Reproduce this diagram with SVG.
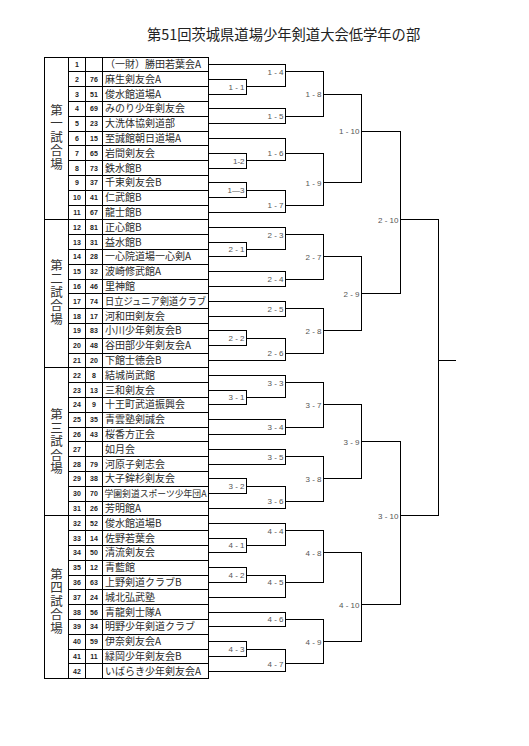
<svg xmlns="http://www.w3.org/2000/svg" width="529" height="746" viewBox="0 0 529 746">
<style>
.bg{fill:#ffffff}
.ln{fill:none;stroke:#000;stroke-width:1;shape-rendering:crispEdges}
.title{font-family:"Noto Sans CJK JP","Noto Sans",sans-serif;font-size:14.3px;fill:#222}
.grp{font-family:"Noto Sans CJK JP",sans-serif;font-size:12.5px;fill:#333;text-anchor:middle;writing-mode:vertical-rl;letter-spacing:1px}
.no{font-family:"Liberation Sans",Arial,sans-serif;font-size:7px;font-weight:bold;fill:#222;text-anchor:middle}
.nm{font-family:"Noto Sans CJK JP",sans-serif;font-size:10px;fill:#2a2a2a}
.sm{font-family:"Noto Sans CJK JP",sans-serif;font-size:8.7px;fill:#2a2a2a}
.lb{font-family:"Liberation Sans",Arial,sans-serif;font-size:8px;fill:#555;text-anchor:end}
</style>
<rect class="bg" x="0" y="0" width="529" height="746"/>
<text id="title" class="title" x="147" y="39.5">第51回茨城県道場少年剣道大会低学年の部</text>

<g id="table">
<rect class="ln" x="44.5" y="57" width="164" height="621.6"/>
<path class="ln" d="M68.5 57V678.6M85.5 57V678.6M102.5 57V678.6"/>
<path class="ln" d="M44.5 219.8H208.5M44.5 367.8H208.5M44.5 515.8H208.5"/>
<path class="ln" d="M68.5 71.8H208.5M68.5 86.6H208.5M68.5 101.4H208.5M68.5 116.2H208.5M68.5 131H208.5M68.5 145.8H208.5M68.5 160.6H208.5M68.5 175.4H208.5M68.5 190.2H208.5M68.5 205H208.5M68.5 234.6H208.5M68.5 249.4H208.5M68.5 264.2H208.5M68.5 279H208.5M68.5 293.8H208.5M68.5 308.6H208.5M68.5 323.4H208.5M68.5 338.2H208.5M68.5 353H208.5M68.5 382.6H208.5M68.5 397.4H208.5M68.5 412.2H208.5M68.5 427H208.5M68.5 441.8H208.5M68.5 456.6H208.5M68.5 471.4H208.5M68.5 486.2H208.5M68.5 501H208.5M68.5 530.6H208.5M68.5 545.4H208.5M68.5 560.2H208.5M68.5 575H208.5M68.5 589.8H208.5M68.5 604.6H208.5M68.5 619.4H208.5M68.5 634.2H208.5M68.5 649H208.5M68.5 663.8H208.5"/>
</g>

<g id="court-1"><text class="grp" x="56.5" y="137.5">第一試合場</text></g>
<g id="court-2"><text class="grp" x="56.5" y="292.5">第二試合場</text></g>
<g id="court-3"><text class="grp" x="56.5" y="442">第三試合場</text></g>
<g id="court-4"><text class="grp" x="56.5" y="601.5">第四試合場</text></g>

<g id="team-1" transform="translate(0,64.4)"><text class="no" x="77" y="2.5">1</text><text class="nm" x="105" y="3.6">（一財）勝田若葉会A</text></g>
<g id="team-2" transform="translate(0,79.2)"><text class="no" x="77" y="2.5">2</text><text class="no" x="94" y="2.5">76</text><text class="nm" x="105" y="3.6">麻生剣友会A</text></g>
<g id="team-3" transform="translate(0,94)"><text class="no" x="77" y="2.5">3</text><text class="no" x="94" y="2.5">51</text><text class="nm" x="105" y="3.6">俊水館道場A</text></g>
<g id="team-4" transform="translate(0,108.8)"><text class="no" x="77" y="2.5">4</text><text class="no" x="94" y="2.5">69</text><text class="nm" x="105" y="3.6">みのり少年剣友会</text></g>
<g id="team-5" transform="translate(0,123.6)"><text class="no" x="77" y="2.5">5</text><text class="no" x="94" y="2.5">23</text><text class="nm" x="105" y="3.6">大洗体協剣道部</text></g>
<g id="team-6" transform="translate(0,138.4)"><text class="no" x="77" y="2.5">6</text><text class="no" x="94" y="2.5">15</text><text class="nm" x="105" y="3.6">至誠館朝日道場A</text></g>
<g id="team-7" transform="translate(0,153.2)"><text class="no" x="77" y="2.5">7</text><text class="no" x="94" y="2.5">65</text><text class="nm" x="105" y="3.6">岩間剣友会</text></g>
<g id="team-8" transform="translate(0,168)"><text class="no" x="77" y="2.5">8</text><text class="no" x="94" y="2.5">73</text><text class="nm" x="105" y="3.6">鉄水館B</text></g>
<g id="team-9" transform="translate(0,182.8)"><text class="no" x="77" y="2.5">9</text><text class="no" x="94" y="2.5">37</text><text class="nm" x="105" y="3.6">千束剣友会B</text></g>
<g id="team-10" transform="translate(0,197.6)"><text class="no" x="77" y="2.5">10</text><text class="no" x="94" y="2.5">41</text><text class="nm" x="105" y="3.6">仁武館B</text></g>
<g id="team-11" transform="translate(0,212.4)"><text class="no" x="77" y="2.5">11</text><text class="no" x="94" y="2.5">67</text><text class="nm" x="105" y="3.6">龍士館B</text></g>
<g id="team-12" transform="translate(0,227.2)"><text class="no" x="77" y="2.5">12</text><text class="no" x="94" y="2.5">81</text><text class="nm" x="105" y="3.6">正心館B</text></g>
<g id="team-13" transform="translate(0,242)"><text class="no" x="77" y="2.5">13</text><text class="no" x="94" y="2.5">31</text><text class="nm" x="105" y="3.6">益水館B</text></g>
<g id="team-14" transform="translate(0,256.8)"><text class="no" x="77" y="2.5">14</text><text class="no" x="94" y="2.5">28</text><text class="nm" x="105" y="3.6">一心院道場一心剣A</text></g>
<g id="team-15" transform="translate(0,271.6)"><text class="no" x="77" y="2.5">15</text><text class="no" x="94" y="2.5">32</text><text class="nm" x="105" y="3.6">波崎修武館A</text></g>
<g id="team-16" transform="translate(0,286.4)"><text class="no" x="77" y="2.5">16</text><text class="no" x="94" y="2.5">46</text><text class="nm" x="105" y="3.6">里神館</text></g>
<g id="team-17" transform="translate(0,301.2)"><text class="no" x="77" y="2.5">17</text><text class="no" x="94" y="2.5">74</text><text class="nm" x="105" y="3.6" textLength="101" lengthAdjust="spacingAndGlyphs">日立ジュニア剣道クラブ</text></g>
<g id="team-18" transform="translate(0,316)"><text class="no" x="77" y="2.5">18</text><text class="no" x="94" y="2.5">17</text><text class="nm" x="105" y="3.6">河和田剣友会</text></g>
<g id="team-19" transform="translate(0,330.8)"><text class="no" x="77" y="2.5">19</text><text class="no" x="94" y="2.5">83</text><text class="nm" x="105" y="3.6">小川少年剣友会B</text></g>
<g id="team-20" transform="translate(0,345.6)"><text class="no" x="77" y="2.5">20</text><text class="no" x="94" y="2.5">48</text><text class="nm" x="105" y="3.6">谷田部少年剣友会A</text></g>
<g id="team-21" transform="translate(0,360.4)"><text class="no" x="77" y="2.5">21</text><text class="no" x="94" y="2.5">20</text><text class="nm" x="105" y="3.6">下館士徳会B</text></g>
<g id="team-22" transform="translate(0,375.2)"><text class="no" x="77" y="2.5">22</text><text class="no" x="94" y="2.5">8</text><text class="nm" x="105" y="3.6">結城尚武館</text></g>
<g id="team-23" transform="translate(0,390)"><text class="no" x="77" y="2.5">23</text><text class="no" x="94" y="2.5">13</text><text class="nm" x="105" y="3.6">三和剣友会</text></g>
<g id="team-24" transform="translate(0,404.8)"><text class="no" x="77" y="2.5">24</text><text class="no" x="94" y="2.5">9</text><text class="nm" x="105" y="3.6">十王町武道振興会</text></g>
<g id="team-25" transform="translate(0,419.6)"><text class="no" x="77" y="2.5">25</text><text class="no" x="94" y="2.5">35</text><text class="nm" x="105" y="3.6">青雲塾剣誠会</text></g>
<g id="team-26" transform="translate(0,434.4)"><text class="no" x="77" y="2.5">26</text><text class="no" x="94" y="2.5">43</text><text class="nm" x="105" y="3.6">桜香方正会</text></g>
<g id="team-27" transform="translate(0,449.2)"><text class="no" x="77" y="2.5">27</text><text class="nm" x="105" y="3.6">如月会</text></g>
<g id="team-28" transform="translate(0,464)"><text class="no" x="77" y="2.5">28</text><text class="no" x="94" y="2.5">79</text><text class="nm" x="105" y="3.6">河原子剣志会</text></g>
<g id="team-29" transform="translate(0,478.8)"><text class="no" x="77" y="2.5">29</text><text class="no" x="94" y="2.5">38</text><text class="nm" x="105" y="3.6">大子鉾杉剣友会</text></g>
<g id="team-30" transform="translate(0,493.6)"><text class="no" x="77" y="2.5">30</text><text class="no" x="94" y="2.5">70</text><text class="sm" x="104.5" y="3.2" textLength="102" lengthAdjust="spacingAndGlyphs">学園剣道スポーツ少年団A</text></g>
<g id="team-31" transform="translate(0,508.4)"><text class="no" x="77" y="2.5">31</text><text class="no" x="94" y="2.5">26</text><text class="nm" x="105" y="3.6">芳明館A</text></g>
<g id="team-32" transform="translate(0,523.2)"><text class="no" x="77" y="2.5">32</text><text class="no" x="94" y="2.5">52</text><text class="nm" x="105" y="3.6">俊水館道場B</text></g>
<g id="team-33" transform="translate(0,538)"><text class="no" x="77" y="2.5">33</text><text class="no" x="94" y="2.5">14</text><text class="nm" x="105" y="3.6">佐野若葉会</text></g>
<g id="team-34" transform="translate(0,552.8)"><text class="no" x="77" y="2.5">34</text><text class="no" x="94" y="2.5">50</text><text class="nm" x="105" y="3.6">清流剣友会</text></g>
<g id="team-35" transform="translate(0,567.6)"><text class="no" x="77" y="2.5">35</text><text class="no" x="94" y="2.5">12</text><text class="nm" x="105" y="3.6">青藍館</text></g>
<g id="team-36" transform="translate(0,582.4)"><text class="no" x="77" y="2.5">36</text><text class="no" x="94" y="2.5">63</text><text class="nm" x="105" y="3.6">上野剣道クラブB</text></g>
<g id="team-37" transform="translate(0,597.2)"><text class="no" x="77" y="2.5">37</text><text class="no" x="94" y="2.5">24</text><text class="nm" x="105" y="3.6">城北弘武塾</text></g>
<g id="team-38" transform="translate(0,612)"><text class="no" x="77" y="2.5">38</text><text class="no" x="94" y="2.5">56</text><text class="nm" x="105" y="3.6">青龍剣士隊A</text></g>
<g id="team-39" transform="translate(0,626.8)"><text class="no" x="77" y="2.5">39</text><text class="no" x="94" y="2.5">34</text><text class="nm" x="105" y="3.6">明野少年剣道クラブ</text></g>
<g id="team-40" transform="translate(0,641.6)"><text class="no" x="77" y="2.5">40</text><text class="no" x="94" y="2.5">59</text><text class="nm" x="105" y="3.6">伊奈剣友会A</text></g>
<g id="team-41" transform="translate(0,656.4)"><text class="no" x="77" y="2.5">41</text><text class="no" x="94" y="2.5">11</text><text class="nm" x="105" y="3.6">緑岡少年剣友会B</text></g>
<g id="team-42" transform="translate(0,671.2)"><text class="no" x="77" y="2.5">42</text><text class="nm" x="105" y="3.6">いばらき少年剣友会A</text></g>

<g id="connectors" class="ln">
<path d="M208.5 79.2H246.5V94H208.5"/>
<path d="M208.5 153.2H246.5V168H208.5"/>
<path d="M208.5 182.8H246.5V197.6H208.5"/>
<path d="M208.5 64.4H285.5V86.6H246.5"/>
<path d="M208.5 108.8H285.5V123.6H208.5"/>
<path d="M208.5 138.4H285.5V160.6H246.5"/>
<path d="M246.5 190.2H285.5V212.4H208.5"/>
<path d="M285.5 71.8H323.5V116.2H285.5"/>
<path d="M285.5 153.2H323.5V205H285.5"/>
<path d="M323.5 94H361.5V182.8H323.5"/>
<path d="M208.5 242H246.5V256.8H208.5"/>
<path d="M208.5 330.8H246.5V345.6H208.5"/>
<path d="M208.5 227.2H285.5V249.4H246.5"/>
<path d="M208.5 271.6H285.5V286.4H208.5"/>
<path d="M208.5 301.2H285.5V316H208.5"/>
<path d="M246.5 338.2H285.5V360.4H208.5"/>
<path d="M285.5 234.6H323.5V279H285.5"/>
<path d="M285.5 308.6H323.5V353H285.5"/>
<path d="M323.5 256.8H361.5V330.8H323.5"/>
<path d="M361.5 131H400.5V293.8H361.5"/>
<path d="M208.5 390H246.5V404.8H208.5"/>
<path d="M208.5 478.8H246.5V493.6H208.5"/>
<path d="M208.5 375.2H285.5V397.4H246.5"/>
<path d="M208.5 419.6H285.5V434.4H208.5"/>
<path d="M208.5 449.2H285.5V464H208.5"/>
<path d="M246.5 486.2H285.5V508.4H208.5"/>
<path d="M285.5 382.6H323.5V427H285.5"/>
<path d="M285.5 456.6H323.5V501H285.5"/>
<path d="M323.5 404.8H361.5V478.8H323.5"/>
<path d="M361.5 441.8H400.5V604.6H361.5"/>
<path d="M208.5 538H246.5V552.8H208.5"/>
<path d="M208.5 567.6H246.5V582.4H208.5"/>
<path d="M208.5 641.6H246.5V656.4H208.5"/>
<path d="M208.5 523.2H285.5V545.4H246.5"/>
<path d="M246.5 575H285.5V597.2H208.5"/>
<path d="M208.5 612H285.5V626.8H208.5"/>
<path d="M246.5 649H285.5V671.2H208.5"/>
<path d="M285.5 530.6H323.5V582.4H285.5"/>
<path d="M285.5 619.4H323.5V663.8H285.5"/>
<path d="M323.5 552.8H361.5V641.6H323.5"/>
<path d="M400.5 219.8H438.5V515.8H400.5M438.5 360.4H456"/>
</g>

<g id="match-labels">
<g id="m1-1"><text class="lb" x="244.5" y="89.6">1 - 1</text></g>
<g id="m1-2"><text class="lb" x="244.5" y="163.6">1-2</text></g>
<g id="m1-3"><text class="lb" x="244.5" y="193.2">1—3</text></g>
<g id="m1-4"><text class="lb" x="283.5" y="74.8">1 - 4</text></g>
<g id="m1-5"><text class="lb" x="283.5" y="119.2">1 - 5</text></g>
<g id="m1-6"><text class="lb" x="283.5" y="156.2">1 - 6</text></g>
<g id="m1-7"><text class="lb" x="283.5" y="208">1 - 7</text></g>
<g id="m1-8"><text class="lb" x="321.5" y="97">1 - 8</text></g>
<g id="m1-9"><text class="lb" x="321.5" y="185.8">1 - 9</text></g>
<g id="m1-10"><text class="lb" x="359.5" y="134">1 - 10</text></g>
<g id="m2-1"><text class="lb" x="244.5" y="252.4">2 - 1</text></g>
<g id="m2-2"><text class="lb" x="244.5" y="341.2">2 - 2</text></g>
<g id="m2-3"><text class="lb" x="283.5" y="237.6">2 - 3</text></g>
<g id="m2-4"><text class="lb" x="283.5" y="282">2 - 4</text></g>
<g id="m2-5"><text class="lb" x="283.5" y="311.6">2 - 5</text></g>
<g id="m2-6"><text class="lb" x="283.5" y="356">2 - 6</text></g>
<g id="m2-7"><text class="lb" x="321.5" y="259.8">2 - 7</text></g>
<g id="m2-8"><text class="lb" x="321.5" y="333.8">2 - 8</text></g>
<g id="m2-9"><text class="lb" x="359.5" y="296.8">2 - 9</text></g>
<g id="m2-10"><text class="lb" x="398.5" y="222.8">2 - 10</text></g>
<g id="m3-1"><text class="lb" x="244.5" y="400.4">3 - 1</text></g>
<g id="m3-2"><text class="lb" x="244.5" y="489.2">3 - 2</text></g>
<g id="m3-3"><text class="lb" x="283.5" y="385.6">3 - 3</text></g>
<g id="m3-4"><text class="lb" x="283.5" y="430">3 - 4</text></g>
<g id="m3-5"><text class="lb" x="283.5" y="459.6">3 - 5</text></g>
<g id="m3-6"><text class="lb" x="283.5" y="504">3 - 6</text></g>
<g id="m3-7"><text class="lb" x="321.5" y="407.8">3 - 7</text></g>
<g id="m3-8"><text class="lb" x="321.5" y="481.8">3 - 8</text></g>
<g id="m3-9"><text class="lb" x="359.5" y="444.8">3 - 9</text></g>
<g id="m3-10"><text class="lb" x="398.5" y="518.8">3 - 10</text></g>
<g id="m4-1"><text class="lb" x="244.5" y="548.4">4 - 1</text></g>
<g id="m4-2"><text class="lb" x="244.5" y="578">4 - 2</text></g>
<g id="m4-3"><text class="lb" x="244.5" y="652">4 - 3</text></g>
<g id="m4-4"><text class="lb" x="283.5" y="533.6">4 - 4</text></g>
<g id="m4-5"><text class="lb" x="283.5" y="585.4">4 - 5</text></g>
<g id="m4-6"><text class="lb" x="283.5" y="622.4">4 - 6</text></g>
<g id="m4-7"><text class="lb" x="283.5" y="666.8">4 - 7</text></g>
<g id="m4-8"><text class="lb" x="321.5" y="555.8">4 - 8</text></g>
<g id="m4-9"><text class="lb" x="321.5" y="644.6">4 - 9</text></g>
<g id="m4-10"><text class="lb" x="359.5" y="607.6">4 - 10</text></g>
</g>
</svg>
